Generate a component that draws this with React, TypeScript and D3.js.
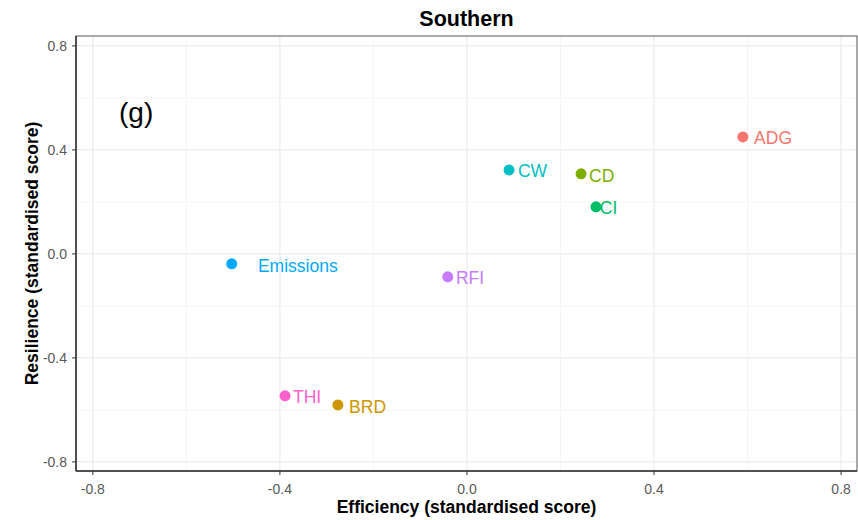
import React from "react";
import * as d3 from "d3";

const traits = ["ADG", "BRD", "CD", "CI", "CW", "Emissions", "RFI", "THI"];
const efficiency = [0.59, -0.276, 0.244, 0.276, 0.09, -0.503, -0.041, -0.389];
const resilience = [0.45, -0.581, 0.308, 0.181, 0.323, -0.038, -0.088, -0.546];
const labelX = [0.614, -0.252, 0.261, 0.284, 0.109, -0.447, -0.0235, -0.372];
const labelY = [0.446, -0.588, 0.30, 0.177, 0.319, -0.046, -0.092, -0.55];
const colors = ["#F8766D", "#CD9600", "#7CAE00", "#00BE67", "#00BFC4", "#00A9FF", "#C77CFF", "#FF61CC"];
const majorTicks = [-0.8, -0.4, 0.0, 0.4, 0.8];
const minorTicks = [-0.6, -0.2, 0.2, 0.6];

const W = 858;
const H = 520;
const panel = { left: 76, right: 857, top: 36, bottom: 471 };

export default function App() {
  const x = d3.scaleLinear().domain([-0.836, 0.834]).range([panel.left, panel.right]);
  const y = d3.scaleLinear().domain([-0.835, 0.838]).range([panel.bottom, panel.top]);
  const font = "'Liberation Sans', Arial, sans-serif";
  const fmt = (v: number) => d3.format(".1f")(v).replace("\u2212", "-");

  return (
    <svg width={W} height={H} style={{ position: "absolute", left: 0, top: 0, fontFamily: font }}>
      <rect x={0} y={0} width={W} height={H} fill="#fff" />
      {minorTicks.map((t) => (
        <g key={"mn" + t}>
          <line x1={x(t)} x2={x(t)} y1={panel.top} y2={panel.bottom} stroke="#F2F2F2" strokeWidth={0.8} />
          <line x1={panel.left} x2={panel.right} y1={y(t)} y2={y(t)} stroke="#F2F2F2" strokeWidth={0.8} />
        </g>
      ))}
      {majorTicks.map((t) => (
        <g key={"mj" + t}>
          <line x1={x(t)} x2={x(t)} y1={panel.top} y2={panel.bottom} stroke="#E6E6E6" strokeWidth={1} />
          <line x1={panel.left} x2={panel.right} y1={y(t)} y2={y(t)} stroke="#E6E6E6" strokeWidth={1} />
        </g>
      ))}
      <rect x={panel.left} y={panel.top} width={panel.right - panel.left} height={panel.bottom - panel.top} fill="none" stroke="#555" strokeWidth={1} />
      <line x1={panel.left} x2={panel.left} y1={panel.top} y2={panel.bottom} stroke="#333" strokeWidth={1.5} />
      <line x1={panel.left} x2={panel.right} y1={panel.bottom} y2={panel.bottom} stroke="#333" strokeWidth={1.5} />
      {majorTicks.map((t) => (
        <g key={"tk" + t}>
          <line x1={x(t)} x2={x(t)} y1={panel.bottom} y2={panel.bottom + 4} stroke="#333" />
          <text x={x(t)} y={panel.bottom + 23} textAnchor="middle" fontSize={14} fill="#595959">{fmt(t)}</text>
          <line x1={panel.left - 4} x2={panel.left} y1={y(t)} y2={y(t)} stroke="#333" />
          <text x={panel.left - 9} y={y(t) + 5} textAnchor="end" fontSize={14} fill="#595959">{fmt(t)}</text>
        </g>
      ))}
      <text x={(panel.left + panel.right) / 2} y={26} textAnchor="middle" fontSize={21.5} fontWeight="bold" fill="#000">Southern</text>
      <text x={(panel.left + panel.right) / 2} y={513} textAnchor="middle" fontSize={17.5} fontWeight="bold" fill="#000">Efficiency (standardised score)</text>
      <text transform={`translate(38,${(panel.top + panel.bottom) / 2}) rotate(-90)`} textAnchor="middle" fontSize={17.5} fontWeight="bold" fill="#000">Resilience (standardised score)</text>
      <text x={119} y={122} fontSize={28} fill="#000">(g)</text>
      {traits.map((t, i) => (
        <g key={t}>
          <circle cx={x(efficiency[i])} cy={y(resilience[i])} r={5.5} fill={colors[i]} />
          <text x={x(labelX[i])} y={y(labelY[i])} dy="0.35em" fontSize={17.5} fill={colors[i]}>{t}</text>
        </g>
      ))}
    </svg>
  );
}
